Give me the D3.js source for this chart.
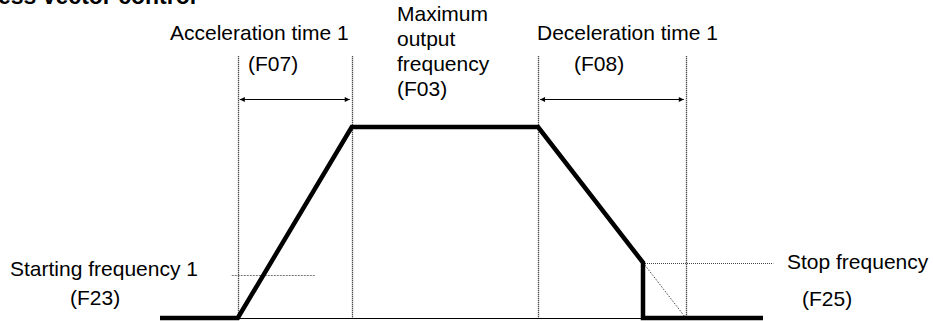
<!DOCTYPE html>
<html>
<head>
<meta charset="utf-8">
<script src="https://cdn.jsdelivr.net/npm/d3@7"></script>
<style>
  body { margin: 0; background: #fff; }
  svg { display: block; font-family: "Liberation Sans", Arial, sans-serif; }
</style>
</head>
<body>
<svg id="chart" width="933" height="321"></svg>
<script>
// output frequency profile (time in arbitrary units, freq in % of max)
const profileTime = [0, 1.29, 3.18, 6.27, 8.01, 8.01, 10];
const profileFreq = [0, 0, 100, 100, 29, 0, 0];

// time markers for the dotted guides
const guideTimes = [1.29, 3.18, 6.27, 8.72];
const accelSpan = [1.29, 3.18];
const decelSpan = [6.27, 8.72];

const startFreq = 22.5;
const stopFreq = 29;
const guideTop = 137;
const arrowLevel = 114.5;

const labelTexts = {
  title: "ess vector control",
  accel: ["Acceleration time 1", "(F07)"],
  maxf: ["Maximum", "output", "frequency", " (F03)"],
  decel: ["Deceleration time 1", "(F08)"],
  start: ["Starting frequency 1", "(F23)"],
  stop: ["Stop frequency", "(F25)"]
};

const svg = d3.select("#chart");

const xScale = d3.scaleLinear().domain([0, 10]).range([160, 763]);
const yScale = d3.scaleLinear().domain([0, 100]).range([318, 127]);

const defs = svg.append("defs");
["start", "end"].forEach(k => {
  defs.append("marker")
    .attr("id", "arrow-" + k)
    .attr("viewBox", "0 0 10 10")
    .attr("refX", 10).attr("refY", 5)
    .attr("markerWidth", 7).attr("markerHeight", 5)
    .attr("markerUnits", "userSpaceOnUse")
    .attr("orient", k === "start" ? "auto-start-reverse" : "auto")
    .append("path")
    .attr("d", "M0,0 L10,5 L0,10 z")
    .attr("fill", "#000");
});

// dotted vertical guides
svg.selectAll(".guide")
  .data(guideTimes)
  .join("line")
  .attr("class", "guide")
  .attr("x1", d => Math.round(xScale(d)) + 0.5)
  .attr("x2", d => Math.round(xScale(d)) + 0.5)
  .attr("y1", yScale(guideTop))
  .attr("y2", yScale(0))
  .attr("stroke", "#111")
  .attr("stroke-width", 1.3)
  .attr("stroke-dasharray", "1,1");

// span arrows
svg.selectAll(".span")
  .data([accelSpan, decelSpan])
  .join("line")
  .attr("class", "span")
  .attr("x1", d => xScale(d[0]) + 2)
  .attr("x2", d => xScale(d[1]) - 2)
  .attr("y1", Math.round(yScale(arrowLevel)) + 0.5)
  .attr("y2", Math.round(yScale(arrowLevel)) + 0.5)
  .attr("stroke", "#000")
  .attr("stroke-width", 1)
  .attr("marker-start", "url(#arrow-start)")
  .attr("marker-end", "url(#arrow-end)");

// starting frequency level
svg.append("line")
  .attr("x1", xScale(1.19)).attr("x2", xScale(2.57))
  .attr("y1", Math.round(yScale(startFreq)) + 0.5)
  .attr("y2", Math.round(yScale(startFreq)) + 0.5)
  .attr("stroke", "#777").attr("stroke-width", 1)
  .attr("stroke-dasharray", "2,1");

// stop frequency level
svg.append("line")
  .attr("x1", xScale(8.01)).attr("x2", xScale(10.17))
  .attr("y1", Math.round(yScale(stopFreq)) + 0.5)
  .attr("y2", Math.round(yScale(stopFreq)) + 0.5)
  .attr("stroke", "#444").attr("stroke-width", 1)
  .attr("stroke-dasharray", "1,1");

// nominal decel continuation to zero
svg.append("line")
  .attr("x1", xScale(8.01)).attr("y1", yScale(stopFreq))
  .attr("x2", xScale(8.72)).attr("y2", yScale(0))
  .attr("stroke", "#444").attr("stroke-width", 1)
  .attr("stroke-dasharray", "1.5,1.5");

// thin time axis
svg.append("line")
  .attr("x1", xScale(1.29)).attr("x2", xScale(8.01))
  .attr("y1", yScale(0) + 0.5).attr("y2", yScale(0) + 0.5)
  .attr("stroke", "#000").attr("stroke-width", 1);

// the profile
const line = d3.line()
  .x(i => xScale(profileTime[i]))
  .y(i => yScale(profileFreq[i]));

svg.append("path")
  .attr("d", line(d3.range(profileTime.length)))
  .attr("fill", "none")
  .attr("stroke", "#000")
  .attr("stroke-width", 4.5)
  .attr("stroke-linejoin", "miter");

// labels
const fs = 21;
const addText = (x, y, t, weight, size) => svg.append("text")
  .attr("x", x).attr("y", y)
  .attr("font-size", size || fs)
  .attr("font-weight", weight || "normal")
  .attr("fill", "#000")
  .text(t);

// heading is clipped by the top edge in the original too
addText(-2, 4, labelTexts.title, "bold", 23);

addText(170, 40, labelTexts.accel[0]);
addText(248, 71, labelTexts.accel[1]);

labelTexts.maxf.forEach((t, i) => addText(397, 21 + i * 25, t));

addText(537, 40, labelTexts.decel[0]);
addText(574, 71, labelTexts.decel[1]);

addText(10, 276, labelTexts.start[0]);
addText(70, 305, labelTexts.start[1]);

addText(787, 269, labelTexts.stop[0]);
addText(802, 306, labelTexts.stop[1]);
</script>
</body>
</html>
